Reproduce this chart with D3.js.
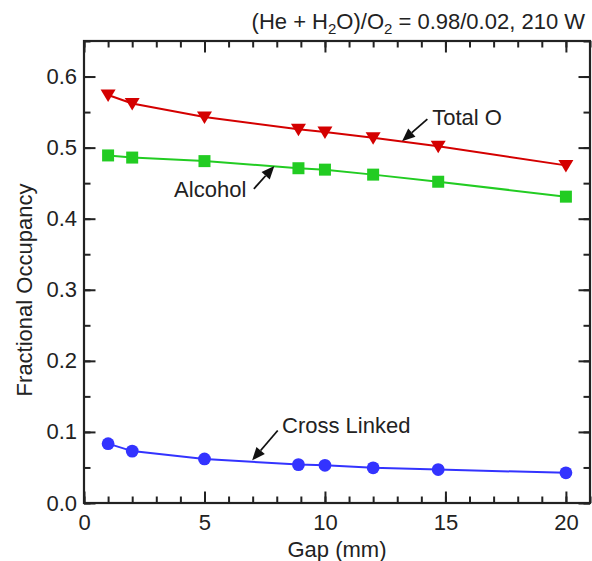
<!DOCTYPE html>
<html>
<head>
<meta charset="utf-8">
<script src="https://cdn.jsdelivr.net/npm/d3@7"></script>
<style>
  html, body { margin: 0; padding: 0; background: #fff; }
  svg text { font-family: "Liberation Sans", Arial, Helvetica, sans-serif; fill: #222; }
</style>
</head>
<body>
<svg id="chart" width="592" height="561"></svg>
<script>
// Gap between electrode and surface (mm)
const gap = [1, 2, 5, 8.9, 10, 12, 14.7, 20];
// Fractional occupancy of each surface group
const totalO      = [0.574, 0.562, 0.543, 0.526, 0.522, 0.514, 0.502, 0.475];
const alcohol     = [0.489, 0.486, 0.481, 0.471, 0.469, 0.462, 0.452, 0.431];
const crossLinked = [0.0835, 0.073, 0.062, 0.054, 0.053, 0.0495, 0.047, 0.0425];

const xTicks = [0, 5, 10, 15, 20];
const yTicks = [0.0, 0.1, 0.2, 0.3, 0.4, 0.5, 0.6];

// Callout labels: text start / baseline, arrow tail and tip, in data units
const callouts = [
  { text: "Total O",      tx: 14.45, ty: 0.5316, x1: 14.25, y1: 0.540, x2: 13.2, y2: 0.509 },
  { text: "Alcohol",      tx: 3.74,  ty: 0.430,  x1: 7.05,  y1: 0.442, x2: 7.9,  y2: 0.474 },
  { text: "Cross Linked", tx: 8.22,  ty: 0.0986, x1: 8.04,  y1: 0.102, x2: 6.98, y2: 0.060 }
];

const svg = d3.select("#chart");
const plotL = 84, plotR = 590, plotT = 41, plotB = 503;

const x = d3.scaleLinear().domain([0, 21]).range([plotL, plotR]);
const y = d3.scaleLinear().domain([0, 0.65]).range([plotB, plotT]);

const axisColor = "#222";
const fontSize = 22;

// Ticks on all four sides, pointing into the plot
function styleAxis(g) {
  g.select(".domain").remove();
  g.selectAll(".tick line").attr("stroke", axisColor).attr("stroke-width", 2);
}
const minorX = d3.range(0, 21.01, 1);
const minorY = d3.range(0, 0.651, 0.05);

// bottom
svg.append("g").attr("transform", `translate(0,${plotB})`)
  .call(d3.axisBottom(x).tickValues(minorX).tickSize(-6.5).tickFormat(""))
  .call(styleAxis);
svg.append("g").attr("transform", `translate(0,${plotB})`)
  .call(d3.axisBottom(x).tickValues(xTicks).tickSize(-11.5).tickPadding(11).tickFormat(d3.format("d")))
  .call(styleAxis)
  .call(g => g.selectAll(".tick text").attr("font-size", fontSize).attr("fill", "#222")
    .attr("font-family", "Liberation Sans, Arial, sans-serif"));
// top
svg.append("g").attr("transform", `translate(0,${plotT})`)
  .call(d3.axisTop(x).tickValues(minorX).tickSize(-6.5).tickFormat(""))
  .call(styleAxis);
svg.append("g").attr("transform", `translate(0,${plotT})`)
  .call(d3.axisTop(x).tickValues(xTicks).tickSize(-11.5).tickFormat(""))
  .call(styleAxis);
// left
svg.append("g").attr("transform", `translate(${plotL},0)`)
  .call(d3.axisLeft(y).tickValues(minorY).tickSize(-6.5).tickFormat(""))
  .call(styleAxis);
svg.append("g").attr("transform", `translate(${plotL},0)`)
  .call(d3.axisLeft(y).tickValues(yTicks).tickSize(-11.5).tickPadding(7).tickFormat(d3.format(".1f")))
  .call(styleAxis)
  .call(g => g.selectAll(".tick text").attr("font-size", fontSize).attr("fill", "#222")
    .attr("font-family", "Liberation Sans, Arial, sans-serif"));
// right
svg.append("g").attr("transform", `translate(${plotR},0)`)
  .call(d3.axisRight(y).tickValues(minorY).tickSize(-6.5).tickFormat(""))
  .call(styleAxis);
svg.append("g").attr("transform", `translate(${plotR},0)`)
  .call(d3.axisRight(y).tickValues(yTicks).tickSize(-11.5).tickFormat(""))
  .call(styleAxis);

// frame
svg.append("rect")
  .attr("x", plotL).attr("y", plotT)
  .attr("width", plotR - plotL).attr("height", plotB - plotT)
  .attr("fill", "none").attr("stroke", axisColor).attr("stroke-width", 2.2);

// series
const series = [
  { values: totalO,      color: "#d40000", marker: "tri" },
  { values: alcohol,     color: "#22cc22", marker: "square" },
  { values: crossLinked, color: "#3333ff", marker: "circle" }
];

const line = d3.line().x(d => x(d[0])).y(d => y(d[1]));

series.forEach(s => {
  const pts = gap.map((g, i) => [g, s.values[i]]);
  svg.append("path").datum(pts)
    .attr("d", line).attr("fill", "none")
    .attr("stroke", s.color).attr("stroke-width", 2);
  const m = svg.append("g").selectAll("path").data(pts).join("path")
    .attr("fill", s.color)
    .attr("transform", d => `translate(${x(d[0])},${y(d[1])})`);
  if (s.marker === "tri") {
    m.attr("d", "M-7.5,-5.5L7.5,-5.5L0,7Z");
  } else if (s.marker === "square") {
    m.attr("d", "M-6,-6H6V6H-6Z");
  } else {
    m.attr("d", d3.symbol(d3.symbolCircle, Math.PI * 6.4 * 6.4)());
  }
});

// callouts with arrows
callouts.forEach(c => {
  const ax1 = x(c.x1), ay1 = y(c.y1), ax2 = x(c.x2), ay2 = y(c.y2);
  const ang = Math.atan2(ay2 - ay1, ax2 - ax1);
  const headLen = 13, headW = 5.5;
  const bx = ax2 - headLen * Math.cos(ang), by = ay2 - headLen * Math.sin(ang);
  svg.append("line")
    .attr("x1", ax1).attr("y1", ay1).attr("x2", bx).attr("y2", by)
    .attr("stroke", "#111").attr("stroke-width", 1.8);
  const px = -Math.sin(ang), py = Math.cos(ang);
  svg.append("path")
    .attr("d", `M${ax2},${ay2}L${bx + headW * px},${by + headW * py}L${bx - headW * px},${by - headW * py}Z`)
    .attr("fill", "#111");
  svg.append("text")
    .attr("x", x(c.tx)).attr("y", y(c.ty))
    .attr("font-size", fontSize)
    .text(c.text);
});

// axis titles
svg.append("text")
  .attr("x", (plotL + plotR) / 2).attr("y", 557)
  .attr("text-anchor", "middle").attr("font-size", fontSize)
  .text("Gap (mm)");
svg.append("text")
  .attr("transform", "translate(32,290) rotate(-90)")
  .attr("text-anchor", "middle").attr("font-size", fontSize)
  .text("Fractional Occupancy");

// condition label with subscripts
const title = svg.append("text")
  .attr("x", 585).attr("y", 29)
  .attr("text-anchor", "end").attr("font-size", fontSize);
title.append("tspan").text("(He + H");
title.append("tspan").attr("font-size", 15).attr("dy", 5).text("2");
title.append("tspan").attr("dy", -5).text("O)/O");
title.append("tspan").attr("font-size", 15).attr("dy", 5).text("2");
title.append("tspan").attr("dy", -5).text(" = 0.98/0.02, 210 W");
</script>
</body>
</html>
